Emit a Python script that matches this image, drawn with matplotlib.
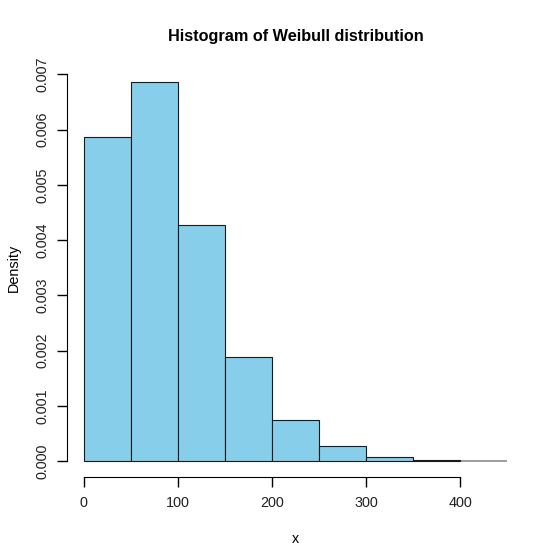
import matplotlib
matplotlib.use('Agg')
import matplotlib.pyplot as plt

plt.rcParams['font.family'] = ['Liberation Sans', 'DejaVu Sans']

# histogram of weibull sample
bin_edges = [0, 50, 100, 150, 200, 250, 300, 350, 400, 450]
density   = [0.00586, 0.00686, 0.00428, 0.00189, 0.00074,
             0.00027, 0.00007, 0.00002, 0.0]
x_ticks   = [0, 100, 200, 300, 400]
y_ticks   = [0.000, 0.001, 0.002, 0.003, 0.004, 0.005, 0.006, 0.007]

fig = plt.figure(figsize=(5.6, 5.6), dpi=100)
ax  = fig.add_axes([0.119, 0.149, 0.817, 0.746])

widths = [b - a for a, b in zip(bin_edges[:-1], bin_edges[1:])]
ax.hlines(0, bin_edges[0], bin_edges[-1], color='#8c8c8c', lw=1.2, zorder=1)
ax.bar(bin_edges[:-2], density[:-1], width=widths[:-1], align='edge',
       color='#87CEEB', edgecolor='#1a1a1a', linewidth=0.8, zorder=2)

ax.set_xlim(-18, 468)
ax.set_ylim(-0.00028, 0.00728)

for side in ['top', 'right']:
    ax.spines[side].set_visible(False)
ax.spines['left'].set_bounds(0, 0.007)
ax.spines['bottom'].set_bounds(0, 400)

ax.set_xticks(x_ticks)
ax.set_xticklabels([str(t) for t in x_ticks])
ax.set_yticks(y_ticks)
ax.set_yticklabels(['%.3f' % t for t in y_ticks], rotation=90, va='center')
ax.tick_params(length=7, width=1, labelsize=10.4, color='black',
               labelcolor='#222222')
ax.tick_params(axis='x', pad=7)
ax.tick_params(axis='y', pad=5)

ax.set_xlabel('x', fontsize=10.4, labelpad=16)
ax.set_ylabel('Density', fontsize=10.4, labelpad=11)
ax.set_title('Histogram of Weibull distribution', fontsize=11.7,
             fontweight='bold', pad=13)

fig.savefig('out.png', dpi=100, facecolor='white')
